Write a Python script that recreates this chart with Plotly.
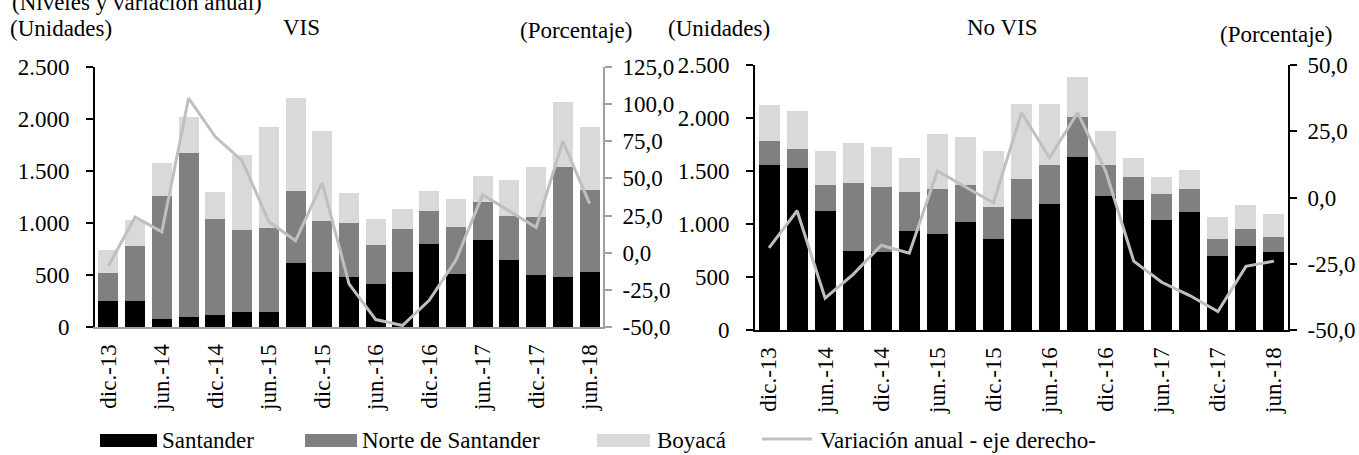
import plotly.graph_objects as go

# ---------------- DATA ----------------
quarters = ["dic.-13", "mar.-14", "jun.-14", "sep.-14", "dic.-14", "mar.-15", "jun.-15",
            "sep.-15", "dic.-15", "mar.-16", "jun.-16", "sep.-16", "dic.-16", "mar.-17",
            "jun.-17", "sep.-17", "dic.-17", "mar.-18", "jun.-18"]
tick_labels = quarters[::2]

# VIS (units)
vis_santander = [250, 250, 80, 100, 120, 140, 140, 620, 530, 480, 410, 530, 800, 510, 840, 640, 500, 480, 530]
vis_norte = [270, 525, 1180, 1570, 920, 790, 810, 690, 490, 520, 380, 410, 320, 450, 360, 430, 560, 1060, 790]
vis_boyaca = [220, 255, 320, 350, 260, 720, 970, 890, 860, 290, 250, 190, 190, 270, 250, 340, 480, 620, 600]
vis_var = [-9, 24, 14, 104, 78, 62, 21, 8, 47, -21, -45, -49, -32, -5, 39, 28, 17, 75, 33]

# No VIS (units)
novis_santander = [1560, 1530, 1120, 750, 740, 930, 910, 1020, 860, 1050, 1190, 1630, 1260, 1230, 1040, 1110, 700, 790, 740]
novis_norte = [220, 180, 250, 640, 610, 370, 420, 350, 300, 370, 370, 380, 300, 210, 240, 220, 160, 160, 140]
novis_boyaca = [340, 360, 320, 370, 380, 320, 520, 450, 530, 710, 570, 380, 320, 180, 160, 180, 210, 230, 210]
novis_var = [-19, -5, -38, -29, -18, -21, 10, 4, -2, 32, 15, 32, 10, -24, -32, -37, -43, -26, -24]

series_names = ["Santander", "Norte de Santander", "Boyacá"]
bar_colors = ["#000000", "#808080", "#d9d9d9"]
line_color = "#bfbfbf"
line_name = "Variación anual - eje derecho-"

left_ticks = [0, 500, 1000, 1500, 2000, 2500]
vis_pct_ticks = [-50, -25, 0, 25, 50, 75, 100, 125]
novis_pct_ticks = [-50, -25, 0, 25, 50]

# ---------------- HELPERS ----------------
W, H = 1359, 455
FONT = "Liberation Serif"
FS = 23


def px(x):
    return x / W


def py(y):
    return 1 - y / H


def fmt_units(v):
    return f"{v:,.0f}".replace(",", ".")


def fmt_pct(v):
    return f"{v:.1f}".replace(".", ",")


fig = go.Figure()

panels = [
    dict(s=vis_santander, n=vis_norte, b=vis_boyaca, v=vis_var, xa="x", ya="y", ya2="y2"),
    dict(s=novis_santander, n=novis_norte, b=novis_boyaca, v=novis_var, xa="x2", ya="y3", ya2="y4"),
]

for p in panels:
    for name, vals, col in zip(series_names, [p["s"], p["n"], p["b"]], bar_colors):
        fig.add_trace(go.Bar(x=quarters, y=vals, name=name, marker=dict(color=col, line=dict(width=0)),
                             xaxis=p["xa"], yaxis=p["ya"], showlegend=False))
    fig.add_trace(go.Scatter(x=quarters, y=p["v"], name=line_name, mode="lines",
                             line=dict(color=line_color, width=3),
                             xaxis=p["xa"], yaxis=p["ya2"], showlegend=False))

axis_font = dict(family=FONT, size=FS, color="black")
gray_axis = "#a0a0a0"

common_x = dict(type="category", categoryorder="array", categoryarray=quarters,
                tickmode="array", tickvals=tick_labels, ticktext=tick_labels,
                tickangle=-90, ticks="", showgrid=False, zeroline=False, automargin=False,
                showline=True, linewidth=2, tickfont=axis_font, ticklabelstandoff=6)

common_y = dict(showline=True, linewidth=2, ticks="outside", ticklen=7, tickwidth=2,
                showgrid=False, zeroline=False, automargin=False, tickfont=axis_font)

fig.update_layout(
    template="none",
    width=W, height=H, autosize=False,
    margin=dict(l=0, r=0, t=0, b=0, pad=0),
    paper_bgcolor="white", plot_bgcolor="white",
    barmode="stack", bargap=0.25,
    showlegend=False,
    font=dict(family=FONT, size=FS, color="black"),
    xaxis=dict(domain=[px(95), px(603)], anchor="y", linecolor=gray_axis, **common_x),
    xaxis2=dict(domain=[px(755), px(1288)], anchor="y3", linecolor="black", **common_x),
    yaxis=dict(domain=[py(327), py(67)], range=[0, 2500], anchor="x",
               tickmode="array", tickvals=left_ticks, ticktext=[fmt_units(v) for v in left_ticks],
               linecolor="black", tickcolor="black", ticklabelstandoff=12, **common_y),
    yaxis2=dict(overlaying="y", side="right", anchor="x", range=[-50, 125],
                tickmode="array", tickvals=vis_pct_ticks, ticktext=[fmt_pct(v) for v in vis_pct_ticks],
                linecolor=gray_axis, tickcolor=gray_axis, ticklabelstandoff=6, **common_y),
    yaxis3=dict(domain=[py(330), py(65)], range=[0, 2500], anchor="x2",
                tickmode="array", tickvals=left_ticks, ticktext=[fmt_units(v) for v in left_ticks],
                linecolor="black", tickcolor="black", ticklabelstandoff=12, **common_y),
    yaxis4=dict(overlaying="y3", side="right", anchor="x2", range=[-50, 50],
                tickmode="array", tickvals=novis_pct_ticks, ticktext=[fmt_pct(v) for v in novis_pct_ticks],
                linecolor="black", tickcolor="black", ticklabelstandoff=6, **common_y),
)

# ---------------- TITLES ----------------
texts = [
    ("(Niveles y variación anual)", 10, 3, "left"),
    ("(Unidades)", 8, 28, "left"),
    ("VIS", 301, 27, "center"),
    ("(Porcentaje)", 518, 31, "left"),
    ("(Unidades)", 666, 28, "left"),
    ("No VIS", 1002, 27, "center"),
    ("(Porcentaje)", 1218, 35, "left"),
]
for t, x, y, anc in texts:
    fig.add_annotation(text=t, x=px(x), y=py(y), xref="paper", yref="paper",
                       xanchor=anc, yanchor="middle", showarrow=False,
                       font=dict(family=FONT, size=FS, color="black"))

# ---------------- LEGEND (custom) ----------------
leg_y = 440
box_specs = [(100, 157, 160), (305, 357, 360), (597, 650, 655)]
for (x0, x1, tx), name, col in zip(box_specs, series_names, bar_colors):
    fig.add_shape(type="rect", xref="paper", yref="paper", x0=px(x0), x1=px(x1),
                  y0=py(leg_y + 7), y1=py(leg_y - 6), fillcolor=col, line=dict(width=0))
    fig.add_annotation(text=name, x=px(tx), y=py(leg_y), xref="paper", yref="paper",
                       xanchor="left", yanchor="middle", showarrow=False,
                       font=dict(family=FONT, size=FS, color="black"))
fig.add_shape(type="line", xref="paper", yref="paper", x0=px(762), x1=px(812),
              y0=py(leg_y - 1), y1=py(leg_y - 1), line=dict(color=line_color, width=3))
fig.add_annotation(text=line_name, x=px(818), y=py(leg_y), xref="paper", yref="paper",
                   xanchor="left", yanchor="middle", showarrow=False,
                   font=dict(family=FONT, size=FS, color="black"))

fig.write_html("out.html",
               config={"displayModeBar": False},
               post_script="document.body.style.margin='0';document.body.style.overflow='hidden';")
